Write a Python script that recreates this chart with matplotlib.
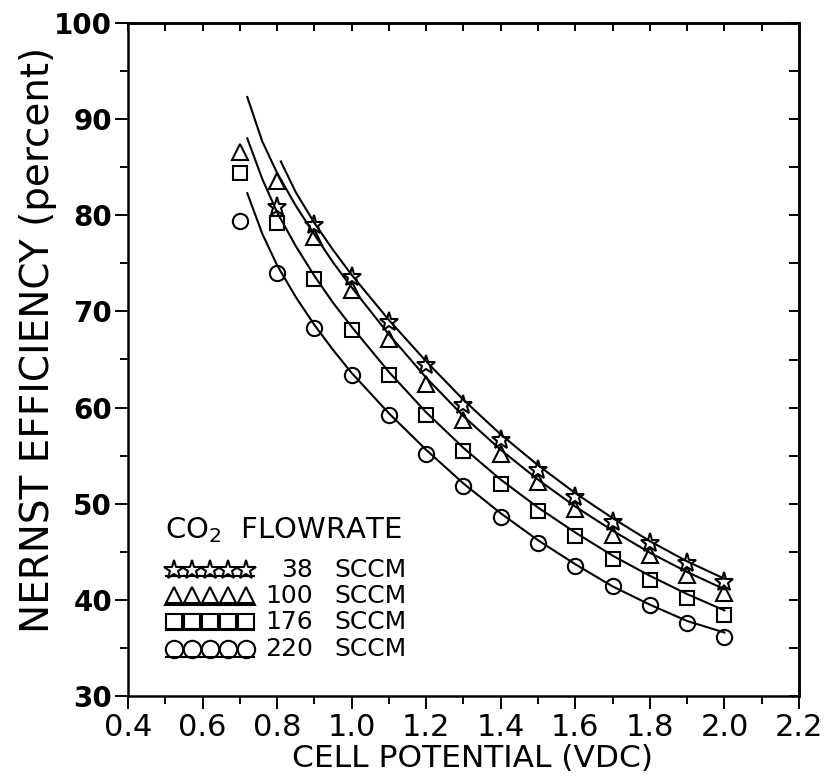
import matplotlib
matplotlib.use("Agg")
import matplotlib.pyplot as plt
from matplotlib.ticker import MultipleLocator

# ---------------- data ----------------
potential = [0.7, 0.8, 0.9, 1.0, 1.1, 1.2, 1.3, 1.4, 1.5, 1.6, 1.7, 1.8, 1.9, 2.0]
potential_38 = [0.8, 0.9, 1.0, 1.1, 1.2, 1.3, 1.4, 1.5, 1.6, 1.7, 1.8, 1.9, 2.0]

eff_38 = [80.9, 79.0, 73.6, 68.9, 64.4, 60.3, 56.6, 53.5, 50.7, 48.1, 45.9, 43.8, 41.9]
eff_100 = [86.6, 83.6, 77.7, 72.2, 67.1, 62.5, 58.7, 55.2, 52.3, 49.5, 46.7, 44.7, 42.6, 40.7]
eff_176 = [84.4, 79.2, 73.4, 68.1, 63.4, 59.2, 55.5, 52.1, 49.2, 46.6, 44.2, 42.1, 40.2, 38.4]
eff_220 = [79.4, 74.0, 68.3, 63.4, 59.2, 55.2, 51.8, 48.6, 45.9, 43.5, 41.4, 39.5, 37.6, 36.1]

# fitted curves, values
fit_x = [0.72, 0.76, 0.8, 0.85, 0.9, 0.95, 1.0, 1.1, 1.2, 1.3, 1.4, 1.5, 1.6, 1.7, 1.8, 1.9, 2.0]
fit_x_38 = [0.81, 0.85, 0.9, 0.95, 1.0, 1.1, 1.2, 1.3, 1.4, 1.5, 1.6, 1.7, 1.8, 1.9, 2.0]
fit_38 = [85.6, 82.4, 79.2, 76.4, 73.8, 69.1, 64.8, 60.8, 57.2, 54.0, 51.1, 48.5, 46.1, 44.0, 42.2]
fit_100 = [92.3, 87.7, 84.4, 81.0, 78.0, 75.1, 72.5, 67.6, 63.1, 59.1, 55.6, 52.5, 49.7, 47.2, 44.9, 42.9, 41.1]
fit_176 = [88.0, 83.8, 80.3, 76.8, 73.7, 70.9, 68.4, 63.7, 59.5, 55.8, 52.5, 49.6, 47.0, 44.6, 42.5, 40.6, 38.9]
fit_220 = [82.3, 78.1, 74.8, 71.5, 68.6, 66.0, 63.6, 59.4, 55.6, 52.1, 49.0, 46.2, 43.7, 41.4, 39.5, 37.8, 36.6]

legend_title = "CO$_2$  FLOWRATE"
legend_rates = ["38", "100", "176", "220"]
legend_unit = "SCCM"

x_ticks = [0.4, 0.6, 0.8, 1.0, 1.2, 1.4, 1.6, 1.8, 2.0, 2.2]
y_ticks = [30, 40, 50, 60, 70, 80, 90, 100]

# ---------------- figure ----------------
W, H = 824, 781
fig = plt.figure(figsize=(W / 100, H / 100), dpi=100)
L, R, T, B = 128, 799, 23, 696
ax = fig.add_axes([L / W, 1 - B / H, (R - L) / W, (B - T) / H])
ax.set_xlim(0.4, 2.2)
ax.set_ylim(30, 100)

lw = 1.5
mew = 1.5
styles = [
    ("*", 14),
    ("^", 11),
    ("s", 10),
    ("o", 11),
]

ax.plot(fit_x_38, fit_38, color="black", lw=lw)
ax.plot(fit_x, fit_100, color="black", lw=lw)
ax.plot(fit_x, fit_176, color="black", lw=lw)
ax.plot(fit_x, fit_220, color="black", lw=lw)

series = [(potential_38, eff_38), (potential, eff_100), (potential, eff_176), (potential, eff_220)]
for (xs, ys), (m, ms) in zip(series, styles):
    ax.plot(xs, ys, ls="none", marker=m, ms=ms, mfc="none", mec="black", mew=mew)

# spines
for s in ax.spines.values():
    s.set_linewidth(1.8)

# ticks
ax.set_xticks(x_ticks)
ax.set_xticklabels([f"{v:.1f}" for v in x_ticks])
ax.set_yticks(y_ticks)
ax.set_yticklabels([str(v) for v in y_ticks])
ax.xaxis.set_minor_locator(MultipleLocator(0.1))
ax.yaxis.set_minor_locator(MultipleLocator(5))
ax.tick_params(which="major", direction="out", length=9.5, width=1.4)
ax.tick_params(which="minor", direction="out", length=6, width=1.4)
ax.tick_params(axis="x", which="major", labelsize=22, pad=3)
ax.tick_params(axis="y", which="major", labelsize=20, pad=2)
for lab in ax.get_yticklabels():
    lab.set_fontweight("bold")

secx = ax.secondary_xaxis("top")
secx.set_xticks(x_ticks)
secx.xaxis.set_minor_locator(MultipleLocator(0.1))
secx.tick_params(which="both", direction="in", length=6, width=1.4, labeltop=False)
secx.spines["top"].set_linewidth(1.8)
secy = ax.secondary_yaxis("right")
secy.set_yticks(y_ticks)
secy.yaxis.set_minor_locator(MultipleLocator(5))
secy.tick_params(which="both", direction="in", length=7, width=1.4, labelright=False)
secy.spines["right"].set_linewidth(1.8)

# axis labels
ax.set_xlabel("CELL POTENTIAL (VDC)", fontsize=22.5)
ax.xaxis.set_label_coords((473 - L) / (R - L), (B - 744) / (B - T))
ax.set_ylabel("NERNST EFFICIENCY (percent)", fontsize=28)
ax.yaxis.set_label_coords((57 - L) / (R - L), (B - 340) / (B - T))


def ax_pt(px, py):
    return (px - L) / (R - L), (B - py) / (B - T)


# legend (drawn manually, as in the reference)
tx, ty = ax_pt(165, 530)
ax.text(tx, ty, legend_title, transform=ax.transAxes, fontsize=21, ha="left", va="center")
row_y = [570, 596, 622, 649]
mark_x = [174, 192, 210, 228, 246]
leg_ms = [15, 12.5, 11.5, 12.5]
bottom_off = [6, 7, 7, 8]
for i, ((m, ms), rate, py) in enumerate(zip(styles, legend_rates, row_y)):
    xs = [ax_pt(px, py)[0] for px in mark_x]
    ys = [ax_pt(px, py)[1] for px in mark_x]
    ax.plot(xs, ys, ls="none", marker=m, ms=leg_ms[i], mfc="none", mec="black", mew=mew,
            transform=ax.transAxes, clip_on=False)
    yb = ax_pt(0, py + bottom_off[i])[1]
    ax.plot([ax_pt(166, 0)[0], ax_pt(254, 0)[0]], [yb, yb], color="black", lw=lw,
            transform=ax.transAxes, clip_on=False)
    nx, ny = ax_pt(313, py)
    ax.text(nx, ny, rate, transform=ax.transAxes, fontsize=18, ha="right", va="center")
    sx, sy = ax_pt(334, py)
    ax.text(sx, sy, legend_unit, transform=ax.transAxes, fontsize=18, ha="left", va="center")

fig.savefig("out.png", dpi=100)
